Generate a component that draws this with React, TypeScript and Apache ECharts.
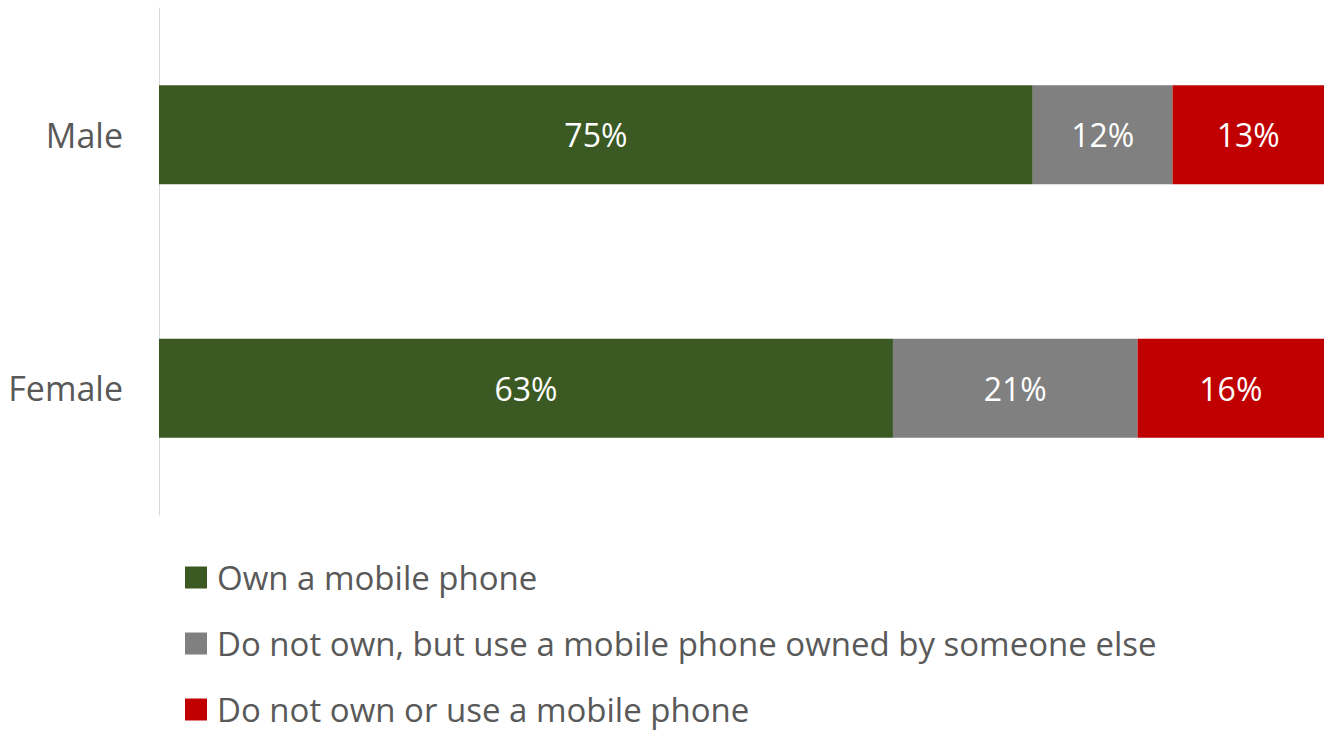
import React, { useEffect, useRef } from "react";
import * as echarts from "echarts";

const categories = ["Male", "Female"];
const seriesNames = [
  "Own a mobile phone",
  "Do not own, but use a mobile phone owned by someone else",
  "Do not own or use a mobile phone",
];
const ownValues = [75, 63];
const useOthersValues = [12, 21];
const noneValues = [13, 16];
const colors = ["#3B5A23", "#808080", "#C00000"];

const FONT = "'Open Sans', Lato, sans-serif";

export default function App() {
  const ref = useRef<HTMLDivElement>(null);
  useEffect(() => {
    if (!ref.current) return;
    const chart = echarts.init(ref.current, undefined, { renderer: "svg" });
    const data = [ownValues, useOthersValues, noneValues];
    chart.setOption({
      animation: false,
      textStyle: { fontFamily: FONT },
      grid: { left: 159, right: 0, top: 8, bottom: 218, containLabel: false },
      xAxis: {
        type: "value",
        min: 0,
        max: 100,
        show: false,
      },
      yAxis: {
        type: "category",
        data: categories,
        inverse: true,
        axisLine: { show: true, lineStyle: { color: "#D9D9D9", width: 1 } },
        axisTick: { show: false },
        axisLabel: {
          color: "#595959",
          fontSize: 34,
          margin: 36,
          fontFamily: FONT,
          padding: [0, 0, 4, 0],
        },
      },
      legend: {
        orient: "vertical",
        left: 185,
        top: 561,
        padding: 0,
        itemWidth: 22,
        itemHeight: 22,
        itemGap: 33,
        icon: "rect",
        textStyle: {
          color: "#595959",
          fontSize: 33,
          lineHeight: 33,
          fontFamily: FONT,
          padding: [0, 0, 0, 5],
        },
        data: seriesNames,
      },
      series: seriesNames.map((name, i) => ({
        name,
        type: "bar",
        stack: "total",
        barWidth: 99,
        data: data[i],
        itemStyle: { color: colors[i] },
        label: {
          show: true,
          position: "inside",
          color: "#FFFFFF",
          fontSize: 32,
          fontFamily: FONT,
          formatter: (p: any) => p.value + "%",
        },
      })),
    });
    return () => chart.dispose();
  }, []);
  return <div ref={ref} style={{ width: 1324, height: 733, position: "absolute", left: 0, top: 0 }} />;
}
